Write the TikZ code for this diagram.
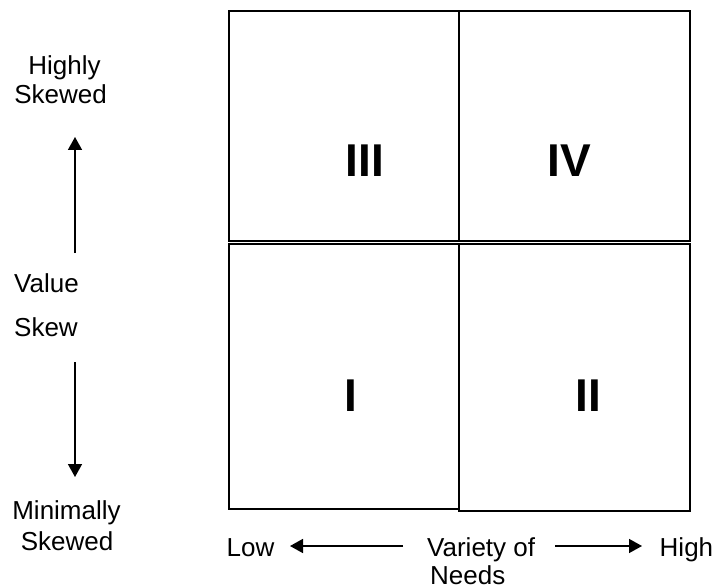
\documentclass[tikz,border=0pt]{standalone}
\usepackage{fontspec}
\setmainfont{Liberation Sans}
\usetikzlibrary{arrows.meta}
\begin{document}
\begin{tikzpicture}[x=1pt,y=-1pt,
  quad/.style={draw,line width=2pt,inner sep=0pt,outer sep=0pt},
  numeral/.style={anchor=base,inner sep=0pt,font=\fontsize{46}{52}\selectfont\bfseries},
  lbl/.style={inner sep=0pt,font=\fontsize{26}{30}\selectfont},
  axis/.style={line width=1.6pt,-{Triangle[length=13pt,width=14pt]}}]
\useasboundingbox (0,0) rectangle (717,588);
% quadrants
\node[quad,minimum width=230pt,minimum height=230pt] (q3) at (344,126) {};
\node[quad,minimum width=231pt,minimum height=230pt] (q4) at (574.5,126) {};
\node[quad,minimum width=230pt,minimum height=265pt] (q1) at (344,376.5) {};
\node[quad,minimum width=231pt,minimum height=267pt] (q2) at (574.5,377.5) {};
\node[numeral] (n3) at (365,176.7) {III};
\node[numeral] (n4) at (569,176.7) {IV};
\node[numeral] (n1) at (351.3,411.7) {I};
\node[numeral] (n2) at (588.3,411.7) {II};
% vertical axis labels
\node[lbl,anchor=base] (hi1) at (64.5,75) {Highly};
\node[lbl,anchor=base] (hi2) at (60.5,104) {Skewed};
\node[lbl,anchor=base west] (val) at (14,292) {Value};
\node[lbl,anchor=base west] (skw) at (14,336) {Skew};
\node[lbl,anchor=base] (mi1) at (66.5,519) {Minimally};
\node[lbl,anchor=base] (mi2) at (67,550) {Skewed};
\coordinate (upS) at (75,253);
\coordinate (upE) at (75,137);
\coordinate (dnS) at (75,362);
\coordinate (dnE) at (75,477);
\draw[axis] (upS) -- (upE);
\draw[axis] (dnS) -- (dnE);
% horizontal axis labels
\node[lbl,anchor=base west] (low) at (226.5,556) {Low};
\node[lbl,anchor=base west] (var1) at (427,556) {Variety of};
\node[lbl,anchor=base west] (var2) at (430,584) {Needs};
\node[lbl,anchor=base west] (high) at (659.5,556) {High};
\coordinate (lS) at (403,546);
\coordinate (lE) at (290,546);
\coordinate (rS) at (555,546);
\coordinate (rE) at (642,546);
\draw[axis] (lS) -- (lE);
\draw[axis] (rS) -- (rE);
\end{tikzpicture}
\end{document}
